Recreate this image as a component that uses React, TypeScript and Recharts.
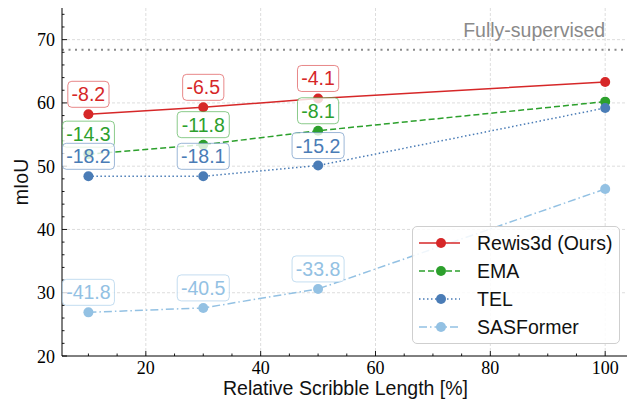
import React from 'react';
import {
  LineChart, Line, XAxis, YAxis, ReferenceLine, ReferenceDot, LabelList, Legend, Label,
} from 'recharts';

// ---- data ----
const scribbleLength = [10, 30, 50, 100];
const rewis3d = [58.2, 59.3, 60.7, 63.3];
const ema = [51.9, 53.4, 55.6, 60.2];
const tel = [48.4, 48.4, 50.1, 59.2];
const sasformer = [26.9, 27.6, 30.6, 46.4];
const rewis3dGap = ['-8.2', '-6.5', '-4.1', ''];
const emaGap = ['-14.3', '-11.8', '-8.1', ''];
const telGap = ['-18.2', '-18.1', '-15.2', ''];
const sasformerGap = ['-41.8', '-40.5', '-33.8', ''];
const fullySupervised = 68.4;
const fullyLabel = 'Fully-supervised';

const xTicks = [10, 15, 20, 25, 30, 35, 40, 45, 50, 55, 60, 65, 70, 75, 80, 85, 90, 95, 100];
const xMajor = [20, 40, 60, 80, 100];
const yTicks = [20, 22, 24, 26, 28, 30, 32, 34, 36, 38, 40, 42, 44, 46, 48, 50, 52, 54, 56, 58, 60, 62, 64, 66, 68, 70, 72, 74];
const yMajor = [30, 40, 50, 60, 70];
const yLabelTicks = [20, 30, 40, 50, 60, 70];

const seriesNames = ['Rewis3d (Ours)', 'EMA', 'TEL', 'SASFormer'];

const data = scribbleLength.map((x, i) => ({
  x,
  rewis3d: rewis3d[i],
  ema: ema[i],
  tel: tel[i],
  sasformer: sasformer[i],
  rewis3dGap: rewis3dGap[i],
  emaGap: emaGap[i],
  telGap: telGap[i],
  sasformerGap: sasformerGap[i],
}));

// ---- styles ----
const SANS = '"Liberation Sans", Arial, sans-serif';
const SERIF = '"Liberation Serif", "Times New Roman", serif';
const RED = '#d62728';
const GREEN = '#2ca02c';
const BLUE = '#4a7cb6';
const LIGHT = '#93c1e3';
const colors = [RED, GREEN, BLUE, LIGHT];
const dashes = [undefined, '6 3', '1.5 2.5', '8 3 1.5 3'];
const keys = ['rewis3d', 'ema', 'tel', 'sasformer'];
const gapKeys = ['rewis3dGap', 'emaGap', 'telGap', 'sasformerGap'];

const LABEL_FS = 19.5;
const TICK_FS = 18;
const charW: Record<string, number> = { '-': 0.333, '.': 0.278 };
const textWidth = (s: string, fs: number) =>
  s.split('').reduce((a, c) => a + (charW[c] ?? 0.556), 0) * fs;

const makeBoxLabel = (color: string) => (props: any) => {
  const { x, y, value } = props;
  if (!value) return null;
  const w = textWidth(String(value), LABEL_FS) + 7.6;
  const h = 26;
  const cy = y - 20;
  return (
    <g>
      <rect x={x - w / 2} y={cy - h / 2} width={w} height={h} rx={4} ry={4}
        fill="#fff" fillOpacity={0.8} stroke={color} strokeOpacity={0.55} strokeWidth={1} />
      <text x={x} y={cy + 7} textAnchor="middle" fill={color}
        style={{ fontFamily: SANS, fontSize: LABEL_FS }}>{value}</text>
    </g>
  );
};

const BottomTick = (props: any) => {
  const { x, y, payload } = props;
  const major = xMajor.includes(payload.value);
  return (
    <g>
      <line x1={x} x2={x} y1={y} y2={y - (major ? 5 : 2.5)} stroke="#000" strokeWidth={0.9} />
      {major && (
        <text x={x} y={y + 17.5} textAnchor="middle" fill="#000"
          style={{ fontFamily: SERIF, fontSize: TICK_FS }}>{payload.value}</text>
      )}
    </g>
  );
};
const TopTick = (props: any) => {
  const { x, y, payload } = props;
  const major = xMajor.includes(payload.value);
  return <line x1={x} x2={x} y1={y} y2={y + (major ? 5 : 2.5)} stroke="#000" strokeWidth={0.9} />;
};
const LeftTick = (props: any) => {
  const { x, y, payload } = props;
  const major = yLabelTicks.includes(payload.value);
  return (
    <g>
      <line x1={x} x2={x + (major ? 5 : 2.5)} y1={y} y2={y} stroke="#000" strokeWidth={0.9} />
      {major && (
        <text x={x - 7} y={y + 6.5} textAnchor="end" fill="#000"
          style={{ fontFamily: SERIF, fontSize: TICK_FS }}>{payload.value}</text>
      )}
    </g>
  );
};
const RightTick = (props: any) => {
  const { x, y, payload } = props;
  const major = yLabelTicks.includes(payload.value);
  return <line x1={x} x2={x - (major ? 5 : 2.5)} y1={y} y2={y} stroke="#000" strokeWidth={0.9} />;
};

const LegendContent = () => (
  <div style={{
    width: 208, height: 118, border: '1px solid #cfcfcf', borderRadius: 5,
    background: 'rgba(255,255,255,0.85)', boxSizing: 'border-box', paddingTop: 2,
  }}>
    {seriesNames.map((n, i) => (
      <div key={n} style={{ display: 'flex', alignItems: 'center', height: 28 }}>
        <svg width={64} height={28} style={{ display: 'block' }}>
          <line x1={6} x2={47} y1={14} y2={14} stroke={colors[i]} strokeWidth={1.5}
            strokeDasharray={dashes[i]} />
          <circle cx={28} cy={14} r={5} fill={colors[i]} />
        </svg>
        <span style={{ fontFamily: SANS, fontSize: 19.5, color: '#111', lineHeight: '28px' }}>{n}</span>
      </div>
    ))}
  </div>
);

export default function App() {
  return (
    <div style={{ position: 'absolute', left: 0, top: 0, width: 629, height: 407, background: '#fff' }}>
      <LineChart width={629} height={407} data={data}
        margin={{ top: 8, right: 2, bottom: 0, left: 0 }}>
        <XAxis xAxisId="b" dataKey="x" type="number" domain={[5.4, 103.8]} allowDataOverflow
          ticks={xTicks} interval={0} tickSize={0} tickMargin={0} tickLine={false}
          axisLine={{ stroke: '#000', strokeWidth: 1 }} height={51} tick={<BottomTick />}>
          <Label content={(p: any) => {
            const vb = p.viewBox;
            return (
              <text x={vb.x + vb.width / 2 + 1} y={vb.y + 39} textAnchor="middle" fill="#111"
                style={{ fontFamily: SANS, fontSize: 19.5 }}>Relative Scribble Length [%]</text>
            );
          }} />
        </XAxis>
        <XAxis xAxisId="t" orientation="top" dataKey="x" type="number" domain={[5.4, 103.8]}
          allowDataOverflow ticks={xTicks} interval={0} tickSize={0} tickMargin={0} tickLine={false}
          axisLine={{ stroke: '#000', strokeWidth: 1 }} height={0} tick={<TopTick />} />
        <YAxis yAxisId="l" type="number" domain={[20, 75]} allowDataOverflow ticks={yTicks}
          interval={0} tickSize={0} tickMargin={0} tickLine={false}
          axisLine={{ stroke: '#000', strokeWidth: 1 }} width={62} tick={<LeftTick />}>
          <Label content={(p: any) => {
            const vb = p.viewBox;
            const cx = 28;
            const cy = vb.y + vb.height / 2;
            return (
              <text x={cx} y={cy} textAnchor="middle" fill="#111" transform={`rotate(-90 ${cx} ${cy})`}
                style={{ fontFamily: SANS, fontSize: 19.5 }}>mIoU</text>
            );
          }} />
        </YAxis>
        <YAxis yAxisId="r" orientation="right" type="number" domain={[20, 75]} allowDataOverflow
          ticks={yTicks} interval={0} tickSize={0} tickMargin={0} tickLine={false}
          axisLine={{ stroke: '#000', strokeWidth: 1 }} width={0} tick={<RightTick />} />

        {xMajor.map((v) => (
          <ReferenceLine key={'gx' + v} xAxisId="b" yAxisId="l" x={v} stroke="#d4d4d4"
            strokeDasharray="3 2" strokeWidth={0.8} />
        ))}
        {yMajor.map((v) => (
          <ReferenceLine key={'gy' + v} xAxisId="b" yAxisId="l" y={v} stroke="#d4d4d4"
            strokeDasharray="3 2" strokeWidth={0.8} />
        ))}
        <ReferenceLine xAxisId="b" yAxisId="l" y={fullySupervised} stroke="#8a8a8a"
          strokeDasharray="2 4.5" strokeWidth={2} />
        <ReferenceDot xAxisId="b" yAxisId="l" x={100} y={fullySupervised} r={0}
          shape={(p: any) => (
            <text x={p.cx} y={p.cy - 13} textAnchor="end" fill="#8a8a8a"
              style={{ fontFamily: SANS, fontSize: 19.5 }}>{fullyLabel}</text>
          )} />

        {keys.map((k, i) => (
          <Line key={k} xAxisId="b" yAxisId="l" type="linear" dataKey={k} name={seriesNames[i]}
            stroke={colors[i]} strokeWidth={1.5} strokeDasharray={dashes[i]}
            dot={{ r: 5, fill: colors[i], stroke: 'none' }} activeDot={false}
            isAnimationActive={false}>
            <LabelList dataKey={gapKeys[i]} content={makeBoxLabel(colors[i])} />
          </Line>
        ))}

        <Legend layout="vertical" align="center" verticalAlign="middle" content={<LegendContent />}
          wrapperStyle={{ position: 'absolute', left: 412, top: 226, width: 210, height: 120 }} />
      </LineChart>
    </div>
  );
}
